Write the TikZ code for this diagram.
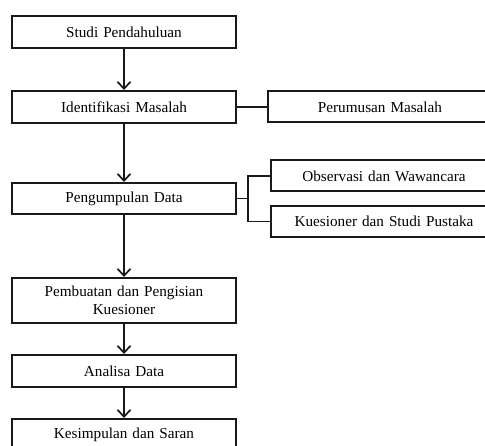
\documentclass[tikz,border=0pt]{standalone}
\usepackage{fontspec}
\setmainfont{Liberation Serif}
\usetikzlibrary{arrows.meta}
\newcommand\boxfont{\fontsize{15.2}{18}\selectfont\spaceskip=5pt\relax}
\begin{document}
\begin{tikzpicture}[x=1pt,y=-1pt,
  box/.style={draw=black!90, line width=2pt, rectangle, inner sep=0pt,
    minimum width=224pt, align=center, font=\boxfont},
  rbox/.style={box, minimum width=226pt},
  link/.style={draw=black!90, line width=1.7pt},
  arr/.style={link, -{Straight Barb[length=7pt,width=13pt,line width=1.7pt]}}]
\useasboundingbox (0,0) rectangle (485,446);
\clip (0,0) rectangle (485,446);
\fill[white] (0,0) rectangle (485,446);
\node[box, minimum height=32pt] (b1) at (124,32) {Studi Pendahuluan};
\node[box, minimum height=32pt] (b2) at (124,107) {Identifikasi Masalah};
\node[box, minimum height=31pt] (b3) at (124,198.5) {Pengumpulan Data};
\node[box, minimum height=45pt] (b4) at (124,300.5) {Pembuatan dan Pengisian\\Kuesioner};
\node[box, minimum height=32pt] (b5) at (124,371) {Analisa Data};
\node[box, minimum height=32pt] (b6) at (124,435) {Kesimpulan dan Saran};
\node[rbox, minimum width=224pt, minimum height=31pt] (per) at (380,107) {Perumusan Masalah};
\node[rbox, minimum height=31pt] (obs) at (384,176) {Observasi dan Wawancara};
\node[rbox, minimum height=31pt] (kue) at (384,221.5) {Kuesioner dan Studi Pustaka};
\draw[arr] (b1.south) -- (b2.north);
\draw[arr] (b2.south) -- (b3.north);
\draw[arr] (b3.south) -- (b4.north);
\draw[arr] (b4.south) -- (b5.north);
\draw[arr] (b5.south) -- (b6.north);
\draw[link] (b2.east) -- (per.west);
\draw[link] (b3.east) -- ++(11,0) coordinate (br);
\draw[link] (obs.west) -| (br) |- (kue.west);
\end{tikzpicture}
\end{document}
